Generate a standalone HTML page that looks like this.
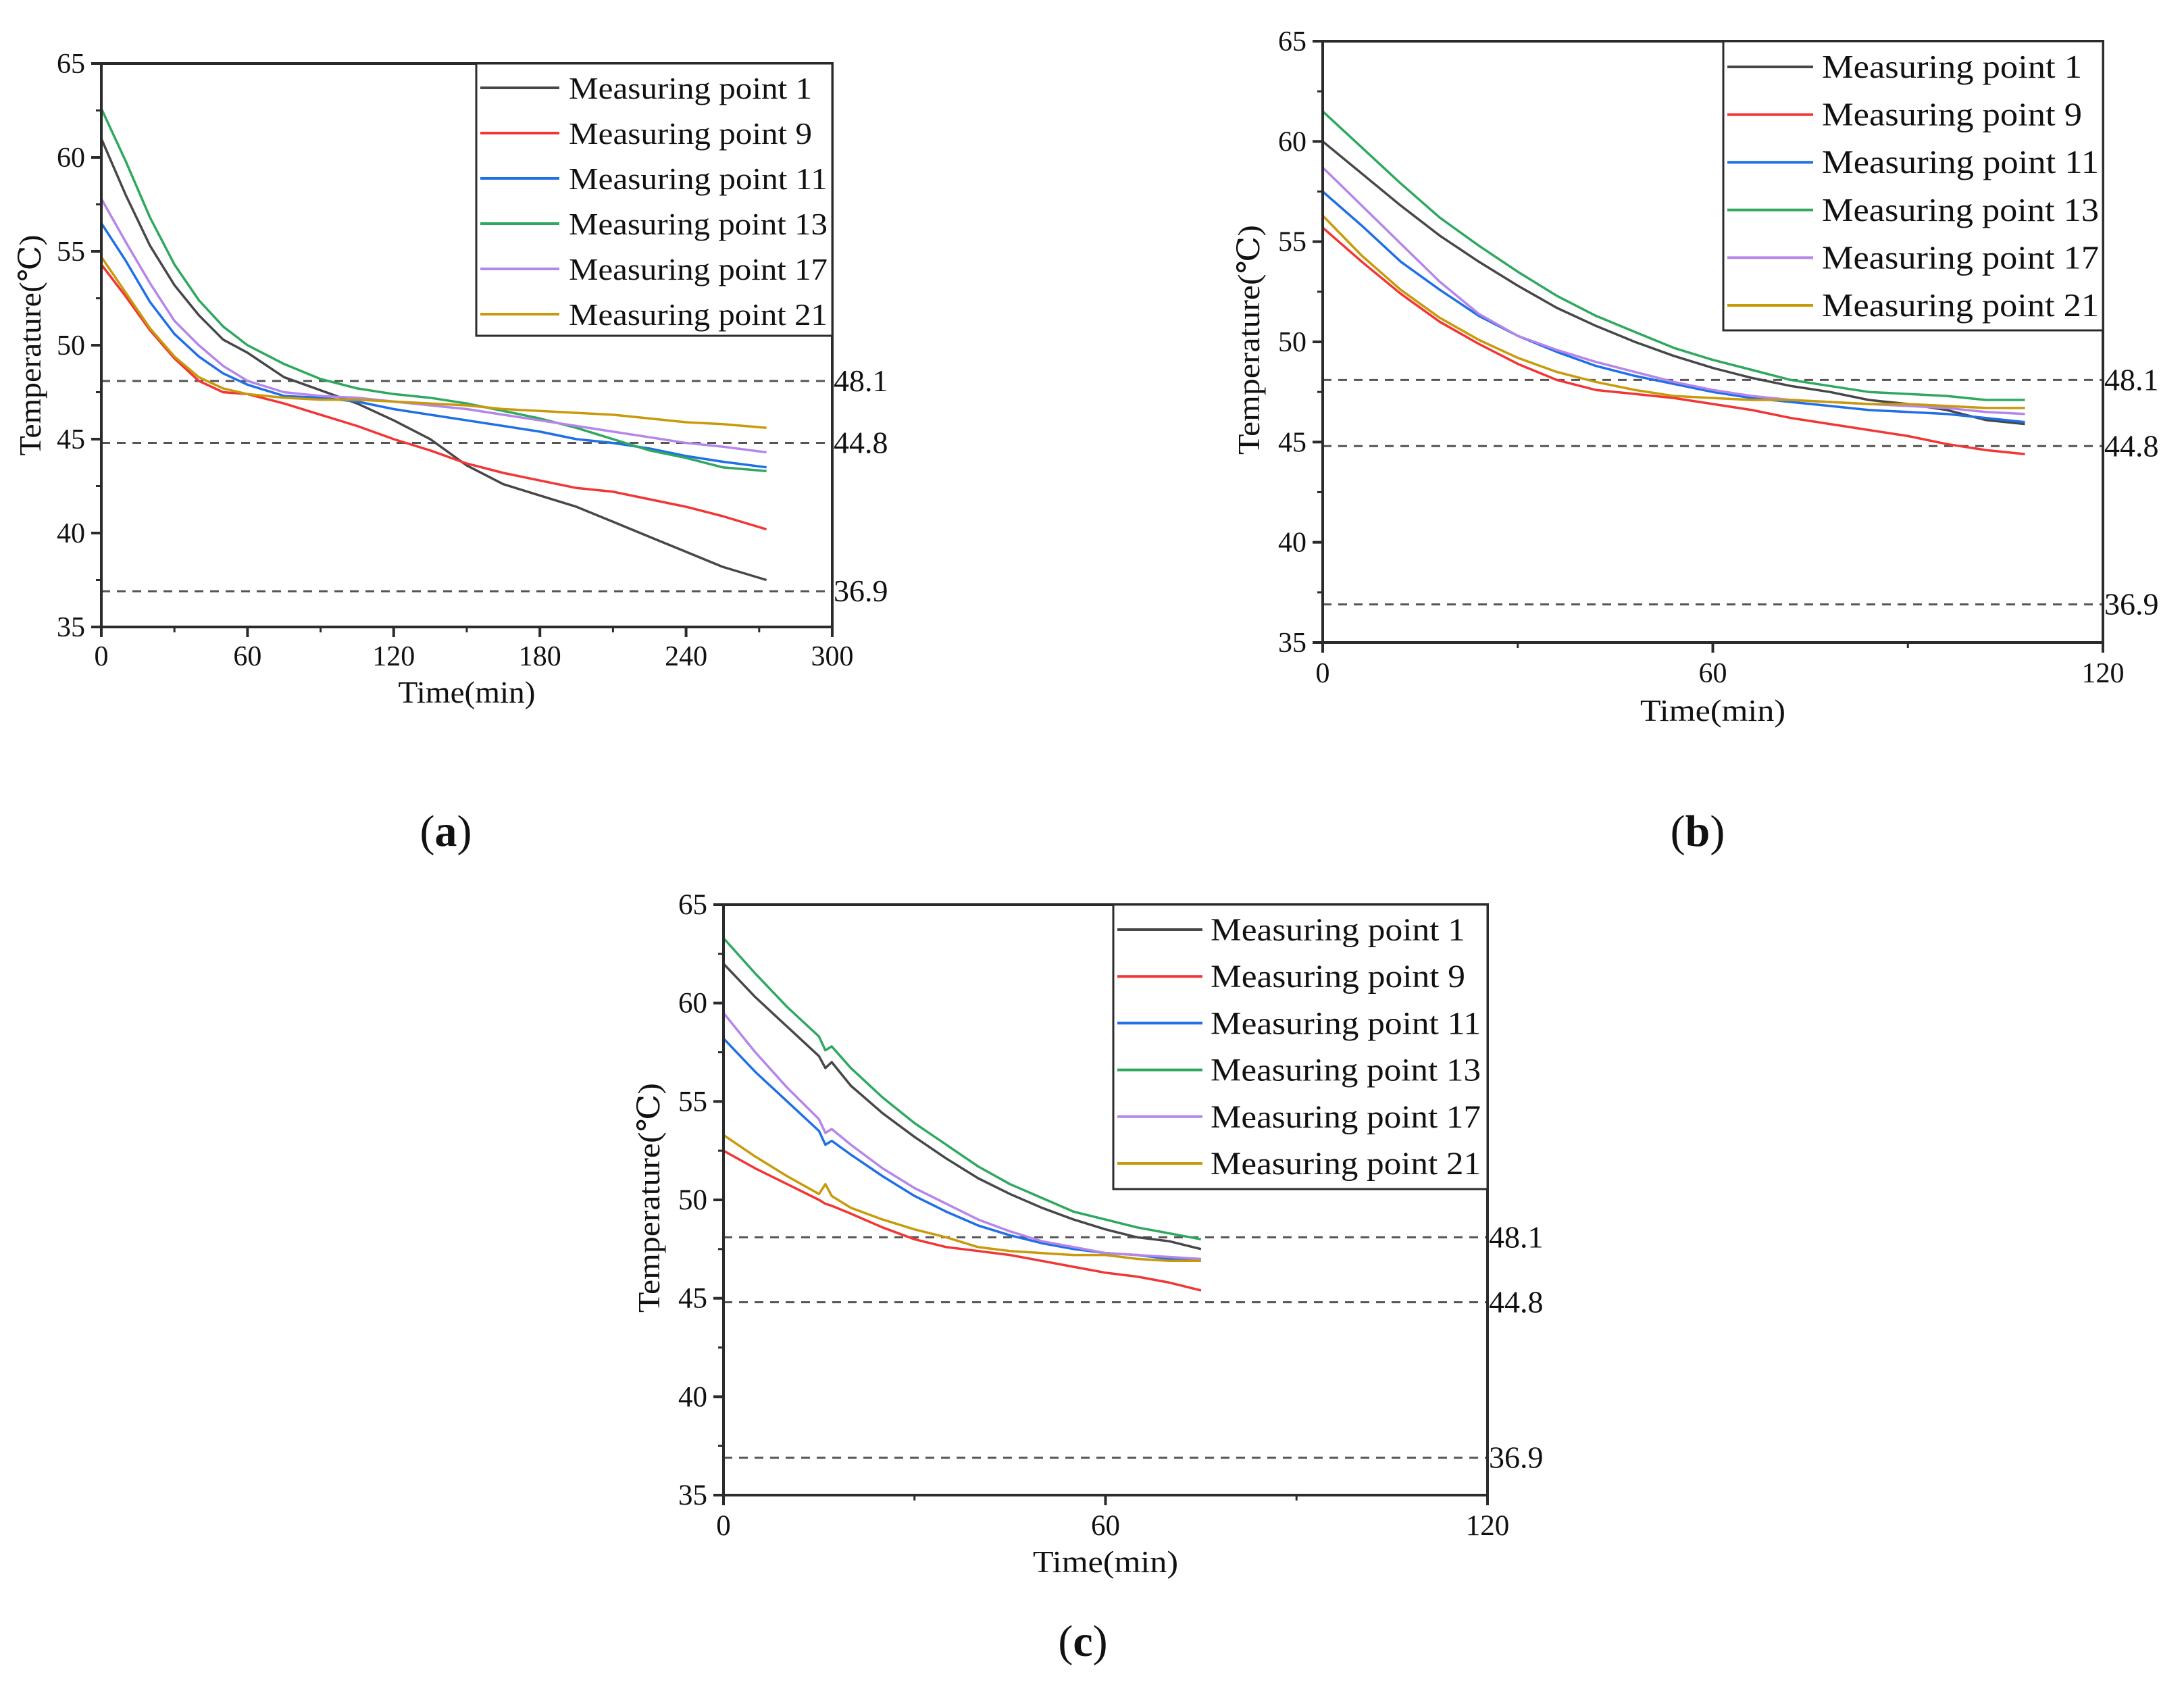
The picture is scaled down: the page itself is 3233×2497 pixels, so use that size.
<!DOCTYPE html>
<html><head><meta charset="utf-8">
<style>
html,body{margin:0;padding:0;background:#fff;}
svg{display:block;}
text{font-family:"Liberation Serif","DejaVu Serif",serif;fill:#111;}
</style></head>
<body>
<svg id="fig" width="3233" height="2497" viewBox="0 0 3233 2497" xmlns="http://www.w3.org/2000/svg"></svg>
<script>
// ---------- Data ----------
const seriesNames = ["Measuring point 1","Measuring point 9","Measuring point 11","Measuring point 13","Measuring point 17","Measuring point 21"];
const refValues = [48.1, 44.8, 36.9];
const refLabels = ["48.1","44.8","36.9"];
const yTicks = [35,40,45,50,55,60,65];

// Panel (a)
const aTime = [0,10,20,30,40,50,60,75,90,105,120,135,150,165,180,195,210,225,240,255,273];
const aMp1  = [61.0,58.0,55.3,53.2,51.6,50.3,49.6,48.3,47.6,46.9,46.0,45.0,43.6,42.6,42.0,41.4,40.6,39.8,39.0,38.2,37.5];
const aMp9  = [54.3,52.6,50.8,49.3,48.1,47.5,47.4,46.9,46.3,45.7,45.0,44.4,43.7,43.2,42.8,42.4,42.2,41.8,41.4,40.9,40.2];
const aMp11 = [56.5,54.5,52.3,50.6,49.4,48.5,47.9,47.3,47.2,47.0,46.6,46.3,46.0,45.7,45.4,45.0,44.8,44.5,44.1,43.8,43.5];
const aMp13 = [62.6,59.8,56.8,54.3,52.4,51.0,50.0,49.0,48.2,47.7,47.4,47.2,46.9,46.5,46.1,45.6,45.0,44.4,44.0,43.5,43.3];
const aMp17 = [57.8,55.5,53.3,51.3,50.0,48.9,48.1,47.5,47.3,47.2,47.0,46.8,46.6,46.3,46.0,45.7,45.4,45.1,44.8,44.6,44.3];
const aMp21 = [54.7,52.8,50.9,49.4,48.3,47.7,47.4,47.2,47.1,47.1,47.0,46.9,46.8,46.6,46.5,46.4,46.3,46.1,45.9,45.8,45.6];
const aXTicks = [0,60,120,180,240,300];

// Panel (b)
const bTime = [0,6,12,18,24,30,36,42,48,54,60,66,72,78,84,90,96,102,108];
const bMp1  = [60.0,58.4,56.8,55.3,54.0,52.8,51.7,50.8,50.0,49.3,48.7,48.2,47.8,47.5,47.1,46.9,46.6,46.1,45.9];
const bMp9  = [55.7,54.0,52.4,51.0,49.9,48.9,48.1,47.6,47.4,47.2,46.9,46.6,46.2,45.9,45.6,45.3,44.9,44.6,44.4];
const bMp11 = [57.5,55.8,54.0,52.6,51.3,50.3,49.5,48.8,48.3,47.9,47.5,47.2,47.0,46.8,46.6,46.5,46.4,46.2,46.0];
const bMp13 = [61.5,59.7,57.9,56.2,54.8,53.5,52.3,51.3,50.5,49.7,49.1,48.6,48.1,47.8,47.5,47.4,47.3,47.1,47.1];
const bMp17 = [58.7,56.8,54.9,53.0,51.4,50.3,49.6,49.0,48.5,48.0,47.6,47.3,47.1,47.0,46.9,46.8,46.7,46.5,46.4];
const bMp21 = [56.3,54.3,52.6,51.2,50.1,49.2,48.5,48.0,47.6,47.3,47.2,47.1,47.1,47.0,46.9,46.9,46.8,46.7,46.7];
const bXTicks = [0,60,120];

// Panel (c)
const cTime = [0,5,10,15,16,17,20,25,30,35,40,45,50,55,60,65,70,75];
const cMp1  = [62.0,60.3,58.8,57.3,56.7,57.0,55.8,54.4,53.2,52.1,51.1,50.3,49.6,49.0,48.5,48.1,47.9,47.5];
const cMp9  = [52.5,51.6,50.8,50.0,49.8,49.7,49.3,48.6,48.0,47.6,47.4,47.2,46.9,46.6,46.3,46.1,45.8,45.4];
const cMp11 = [58.2,56.5,55.0,53.5,52.8,53.0,52.3,51.2,50.2,49.4,48.7,48.2,47.8,47.5,47.3,47.2,47.0,46.9];
const cMp13 = [63.3,61.5,59.8,58.3,57.6,57.8,56.7,55.2,53.9,52.8,51.7,50.8,50.1,49.4,49.0,48.6,48.3,48.0];
const cMp17 = [59.5,57.5,55.7,54.1,53.4,53.6,52.8,51.6,50.6,49.8,49.0,48.4,47.9,47.6,47.3,47.2,47.1,47.0];
const cMp21 = [53.3,52.2,51.2,50.3,50.8,50.2,49.6,49.0,48.5,48.1,47.6,47.4,47.3,47.2,47.2,47.0,46.9,46.9];
const cXTicks = [0,60,120];

const colors = ["#474747","#f23535","#1f6fe6","#2fa85f","#b586ea","#c89a0a"];

// ---------- Drawing ----------
const NS = "http://www.w3.org/2000/svg";
const svg = document.getElementById("fig");
function mk(tag, attrs, parent){
  const e = document.createElementNS(NS, tag);
  for (const k in attrs) e.setAttribute(k, attrs[k]);
  (parent||svg).appendChild(e);
  return e;
}

function drawPanel(p){
  const g = mk("g", {});
  
  
  const xs = v => p.L + (v - p.xMin) / (p.xMax - p.xMin) * (p.R - p.L);
  const ys = v => p.B - (v - 35) / 30 * (p.B - p.T);

  refValues.forEach((rv, i) => {
    const l = mk("line", {x1:p.L, x2:p.R, y1:ys(rv), y2:ys(rv), stroke:"#555", "stroke-width":3, "stroke-dasharray":"13 10"}, g);
    
    
    const t = mk("text", {x:p.R + 2, y:ys(rv) + 15, "font-size":p.refFs}, g);
    t.textContent = refLabels[i];
    
    
  });

  p.series.forEach((vals, si) => {
    let d = "";
    vals.forEach((v, i) => { d += (i ? "L" : "M") + xs(p.time[i]).toFixed(1) + "," + ys(v).toFixed(1); });
    const path = mk("path", {d:d, fill:"none", stroke:colors[si], "stroke-width":3.5, "stroke-linejoin":"round"}, g);
    
    
  });

  const fr = mk("rect", {x:p.L, y:p.T, width:p.R - p.L, height:p.B - p.T, fill:"none", stroke:"#2b2b2b", "stroke-width":4}, g);
  
  

  yTicks.forEach((v, i) => {
    mk("line", {x1:p.L - 15, x2:p.L, y1:ys(v), y2:ys(v), stroke:"#2b2b2b", "stroke-width":4}, g);
    if (i < yTicks.length - 1) mk("line", {x1:p.L - 8, x2:p.L, y1:ys(v + 2.5), y2:ys(v + 2.5), stroke:"#2b2b2b", "stroke-width":3}, g);
    const t = mk("text", {x:p.L - 24, y:ys(v) + 14, "font-size":p.tickFs, "text-anchor":"end"}, g);
    t.textContent = String(v);
    
    
  });
  p.xTicks.forEach((v, i) => {
    mk("line", {x1:xs(v), x2:xs(v), y1:p.B, y2:p.B + 15, stroke:"#2b2b2b", "stroke-width":4}, g);
    if (i < p.xTicks.length - 1) {
      const mid = (v + p.xTicks[i + 1]) / 2;
      mk("line", {x1:xs(mid), x2:xs(mid), y1:p.B, y2:p.B + 8, stroke:"#2b2b2b", "stroke-width":3}, g);
    }
    const t = mk("text", {x:xs(v), y:p.xLabY, "font-size":p.tickFs, "text-anchor":"middle"}, g);
    t.textContent = String(v);
    
    
  });

  const xt = mk("text", {x:(p.L + p.R) / 2, y:p.xTitleY, "font-size":p.titleFs, "text-anchor":"middle", textLength:p.xTitleW, lengthAdjust:"spacingAndGlyphs"}, g);
  xt.textContent = "Time(min)";
  
  
  const yt = mk("text", {x:0, y:0, "font-size":p.titleFs, "text-anchor":"middle", textLength:p.yTitleW, lengthAdjust:"spacingAndGlyphs", transform:"translate(" + p.yTitleX + "," + p.yTitleCy + ") rotate(-90)"}, g);
  yt.textContent = "Temperature(℃)";
  
  

  const lg = mk("g", {}, g);
  
  
  mk("rect", {x:p.lgX, y:p.T, width:p.R - p.lgX, height:p.lgB - p.T, fill:"#fff", stroke:"#2b2b2b", "stroke-width":3}, lg);
  seriesNames.forEach((n, i) => {
    const y = p.lgY0 + i * p.lgDy;
    const ln = mk("line", {x1:p.lgX + 6, x2:p.lgLine, y1:y, y2:y, stroke:colors[i], "stroke-width":4}, lg);
    
    
    const t = mk("text", {x:p.lgTextX, y:y + 16, "font-size":p.lgFs, textLength:(n.length > 17 ? p.lgW2 : p.lgW1), lengthAdjust:"spacingAndGlyphs"}, lg);
    t.textContent = n;
    
    
  });

  const pl = mk("text", {x:p.labX, y:p.labY, "font-size":66, "text-anchor":"middle"}, g);
  
  
  pl.appendChild(document.createTextNode("("));
  const b = mk("tspan", {"font-weight":"bold"}, pl); b.textContent = p.id;
  pl.appendChild(document.createTextNode(")"));
}

drawPanel({id:"a", L:150, R:1232, T:94, B:928, xMin:0, xMax:300, time:aTime,
  series:[aMp1,aMp9,aMp11,aMp13,aMp17,aMp21], xTicks:aXTicks,
  tickFs:42, refFs:46, titleFs:46, xLabY:985, xTitleY:1040, xTitleW:203,
  yTitleX:60, yTitleCy:511, yTitleW:327,
  lgX:705, lgB:497, lgY0:130, lgDy:67, lgLine:828, lgTextX:842, lgFs:46, lgW1:360, lgW2:383,
  labX:660, labY:1252});
drawPanel({id:"b", L:1958, R:3113, T:61, B:951, xMin:0, xMax:120, time:bTime,
  series:[bMp1,bMp9,bMp11,bMp13,bMp17,bMp21], xTicks:bXTicks,
  tickFs:42, refFs:46, titleFs:46, xLabY:1010, xTitleY:1067, xTitleW:215,
  yTitleX:1864, yTitleCy:503, yTitleW:340,
  lgX:2551, lgB:489, lgY0:99, lgDy:70.6, lgLine:2684, lgTextX:2697, lgFs:49, lgW1:385, lgW2:410,
  labX:2513, labY:1252});
drawPanel({id:"c", L:1071, R:2202, T:1339, B:2213, xMin:0, xMax:120, time:cTime,
  series:[cMp1,cMp9,cMp11,cMp13,cMp17,cMp21], xTicks:cXTicks,
  tickFs:43, refFs:46, titleFs:46, xLabY:2272, xTitleY:2327, xTitleW:215,
  yTitleX:976, yTitleCy:1773, yTitleW:340,
  lgX:1648, lgB:1760, lgY0:1376, lgDy:69.2, lgLine:1780, lgTextX:1792, lgFs:48, lgW1:377, lgW2:400,
  labX:1603, labY:2451});
</script>
</body></html>
